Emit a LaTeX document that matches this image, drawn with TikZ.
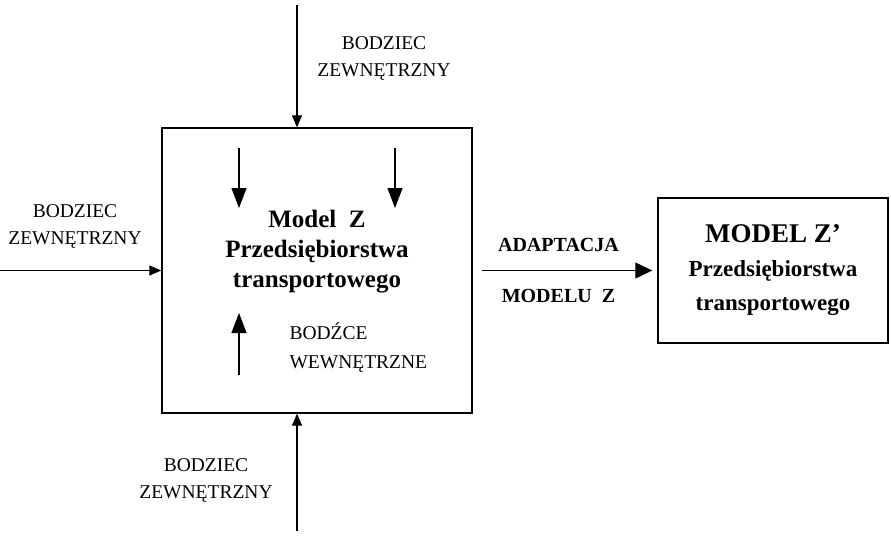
\documentclass[tikz,border=0pt]{standalone}
\usepackage{fontspec}
\setmainfont{Liberation Serif}
\usetikzlibrary{positioning,arrows.meta}

\begin{document}
\begin{tikzpicture}[
    x=1pt, y=-1pt,
    box/.style={rectangle, draw, line width=1.4pt, inner sep=0pt},
    arrow/.style={-{Triangle[length=12pt,width=10pt]}, line width=1.2pt},
    bigarrow/.style={-{Triangle[length=20pt,width=15pt]}, line width=1.2pt},
    signal/.style={font=\fontsize{19.5}{27}\selectfont, align=center},
    title/.style={font=\bfseries\fontsize{25}{30}\selectfont, align=center}
]
\useasboundingbox (0,0) rectangle (891,536);

% Blocks
\node[box, minimum width=310pt, minimum height=285pt] (model) at (317,270.5) {};
\node[title] (modeltxt) at (317,252) {Model\ \ Z\\Przedsiębiorstwa\\transportowego};
\node[box, minimum width=230pt, minimum height=145pt, title, font=\bfseries\fontsize{23}{34}\selectfont] (zprime) at (773,270.5)
    {{\fontsize{27}{34}\selectfont MODEL Z'}\\Przedsiębiorstwa\\transportowego};

% Input points
\coordinate (topin) at (297,5);
\coordinate (botin) at (297,531);
\coordinate (leftin) at (0,270.5);

% External stimuli
\draw[arrow] (topin) -- (topin |- model.north);
\draw[arrow] (botin) -- (botin |- model.south);
\draw[arrow] (leftin) -- (model.west);
\node[signal] (toplbl) at (384,58) {BODZIEC\\ZEWNĘTRZNY};
\node[signal] (botlbl) at (206,480) {BODZIEC\\ZEWNĘTRZNY};
\node[signal] (leftlbl) at (75,226) {BODZIEC\\ZEWNĘTRZNY};

% Internal stimuli
\coordinate (in1) at (239,148);
\coordinate (in1end) at (239,208);
\coordinate (in2) at (395,148);
\coordinate (in2end) at (395,208);
\coordinate (in3) at (239,375);
\coordinate (in3end) at (239,313);
\draw[bigarrow] (in1) -- (in1end);
\draw[bigarrow] (in2) -- (in2end);
\draw[bigarrow] (in3) -- (in3end);
\node[signal, align=left, anchor=west, font=\fontsize{19.5}{29}\selectfont] (innerlbl) at (286,348) {BODŹCE\\WEWNĘTRZNE};

% Adaptation
\draw[-{Triangle[length=17pt,width=16pt]}, line width=1.2pt] ([xshift=9pt]model.east) -- ([xshift=-5pt]zprime.west)
    node[pos=0.45, above=15pt, font=\bfseries\fontsize{20}{22}\selectfont] (adapt) {ADAPTACJA}
    node[pos=0.45, below=15pt, font=\bfseries\fontsize{20}{22}\selectfont] (adapt2) {MODELU\ \ Z};

\end{tikzpicture}
\end{document}
